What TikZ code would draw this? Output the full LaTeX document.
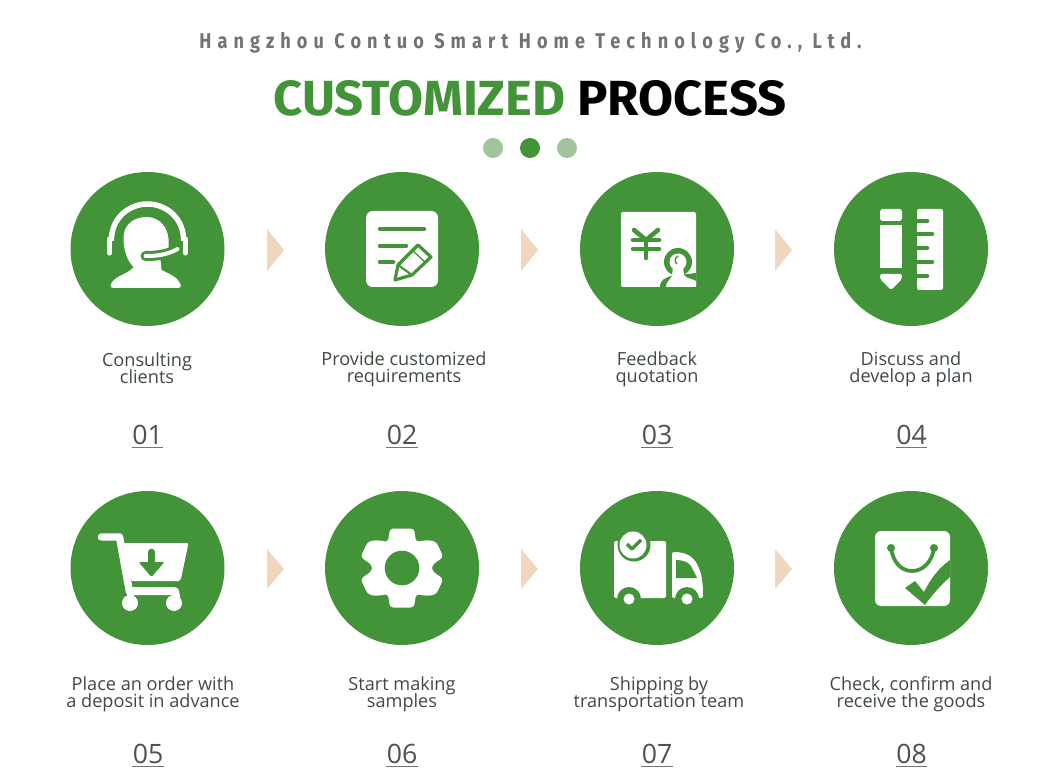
\documentclass[tikz,border=0pt]{standalone}
\usepackage{fontspec}
\usepackage{xcolor}
\setmainfont{Open Sans}
\newfontfamily\headfont[LetterSpace=28.5, FakeStretch=0.85]{Fira Sans}
\newfontfamily\titlefont[FakeStretch=1.03]{Fira Sans}
\lineskiplimit=-20pt
\definecolor{custom_green}{HTML}{439339}
\definecolor{dot_green}{HTML}{A0C49B}
\definecolor{custom_tan}{HTML}{F0D6BC}
\definecolor{caption_gray}{HTML}{3F4A3F}
\definecolor{number_gray}{HTML}{505050}
\tikzset{
  stepcircle/.style={circle, fill=custom_green, inner sep=0pt, minimum size=115.5pt},
  captiontext/.style={font=\fontsize{13.6pt}{12.8pt}\selectfont, text=caption_gray, align=center, inner sep=0pt},
  numbertext/.style={font=\fontsize{20pt}{20pt}\selectfont, text=number_gray, inner sep=0pt, text depth=0pt, text height=16pt},
  numberline/.style={draw=number_gray!80, line width=0.9pt},
  chevron/.style={fill=custom_tan},
  hole/.style={draw=custom_green, line width=3.4pt, line cap=round, line join=round},
}
\begin{document}
\begin{tikzpicture}[x=0.75pt, y=-0.75pt]
    \useasboundingbox (0,0) rectangle (1060,784);

    \node[font=\fontsize{16pt}{16pt}\selectfont\headfont\bfseries, text=black!55] (company) at (530.5,42.5) {Hangzhou Contuo Smart Home Technology Co., Ltd.};
    \node[font=\fontsize{37pt}{37pt}\selectfont\titlefont\bfseries] (title) at (530,98) {\textcolor{custom_green}{CUSTOMIZED} PROCESS};

    \node[circle, fill=dot_green, inner sep=0pt, minimum size=15pt] (dota) at (493,148) {};
    \node[circle, fill=custom_green, inner sep=0pt, minimum size=15pt] (dotb) at (530,148) {};
    \node[circle, fill=dot_green, inner sep=0pt, minimum size=15pt] (dotc) at (567,148) {};

    \node[stepcircle] (stepa) at (147.5,249) {};
    \node[stepcircle] (stepb) at (402,249) {};
    \node[stepcircle] (stepc) at (657,249) {};
    \node[stepcircle] (stepd) at (911,249) {};
    \node[stepcircle] (stepe) at (147.5,568) {};
    \node[stepcircle] (stepf) at (402,568) {};
    \node[stepcircle] (stepg) at (657,568) {};
    \node[stepcircle] (steph) at (911,568) {};

    % chevrons between the circles
    \fill[chevron] (267,229) -- (284,250) -- (267,271) -- cycle;
    \fill[chevron] (521,229) -- (538,250) -- (521,271) -- cycle;
    \fill[chevron] (775,229) -- (792,250) -- (775,271) -- cycle;
    \fill[chevron] (267,549) -- (284,569) -- (267,589) -- cycle;
    \fill[chevron] (521,549) -- (538,569) -- (521,589) -- cycle;
    \fill[chevron] (775,549) -- (792,569) -- (775,589) -- cycle;

    % headset
    \begin{scope}[shift={(stepa)}]
      \draw[white, line width=4.1pt] (-36,-8) -- (-36,-12) .. controls (-34,-34) and (-16,-45) .. (0,-45) .. controls (16,-45) and (34,-34) .. (36,-12) -- (36,-8);
      \draw[white, line width=3.8pt, line cap=round] (-38,-10) -- (-38,4);
      \draw[white, line width=3.8pt, line cap=round] (38,-10) -- (38,4);
      \fill[white] (-1,-32) .. controls (-14,-32) and (-24,-24) .. (-24,-11) .. controls (-24,2) and (-20,12) .. (-14,18) .. controls (-20,26) and (-33,26) .. (-37,36) .. controls (-37,38) and (-36,39) .. (-34,39) -- (31,39) .. controls (33,39) and (34,37) .. (33,35) .. controls (30,28) and (22,25) .. (14,21) -- (13,11) -- (21,3) -- (21,-10) .. controls (20,-22) and (12,-32) .. (-1,-32) -- cycle;
      \draw[custom_green, line width=7.5pt, line cap=round] (-2,7) .. controls (8,7) and (20,6) .. (30,0);
      \draw[white, line width=3pt, line cap=round] (-2,7) .. controls (8,7) and (20,6) .. (30,0);
    \end{scope}

    % document and pencil
    \begin{scope}[shift={(stepb)}]
      \fill[white, rounded corners=5pt] (-36,-38) rectangle (36,38);
      \draw[hole] (-22,-20) -- (22,-20);
      \draw[hole] (-22,-3) -- (4,-3);
      \draw[hole] (-22,13) -- (-9,13);
      \draw[custom_green, fill=white, line width=2.4pt, line join=round] (-7,31) -- (-4,16) -- (16,-4) -- (29,8) -- (10,26) -- cycle;
      \draw[custom_green, line width=1pt] (11,2) -- (23,13);
      \draw[custom_green, line width=1.6pt] (-4,16) -- (10,26);
    \end{scope}

    % quotation and stamp
    \begin{scope}[shift={(stepc)}]
      \fill[white, rounded corners=1.5pt] (-36,-37) rectangle (39,38);
      \draw[hole] (-23,-19) -- (-11,-9) -- (1,-19);
      \draw[hole] (-24,-9) -- (2,-9);
      \draw[hole] (-24,0) -- (2,0);
      \draw[hole] (-11,-9) -- (-11,9);
      \fill[custom_green] (21,13) circle (14);
      \fill[custom_green] (3,38) .. controls (3,31) and (8,29) .. (14,27) -- (39,24) -- (39,38) -- cycle;
      \fill[white] (21,13) circle (8.5);
      \fill[white] (16,18) -- (26,18) -- (27,26) .. controls (30,30) and (36,30) .. (39,32) -- (39,38) -- (9,38) .. controls (9,33) and (13,31) .. (15,27) -- cycle;
      \draw[custom_green, line width=1.1pt] (21,7) .. controls (17,9) and (18,14) .. (20,15);
    \end{scope}

    % pencil and ruler
    \begin{scope}[shift={(stepd)}]
      \fill[white, rounded corners=2pt] (-31,-28) -- (-31,-40) -- (-9,-40) -- (-9,-28) -- cycle;
      \fill[white] (-31,-24) rectangle (-9,19);
      \fill[white, rounded corners=1.5pt] (-31,25) -- (-9,25) -- (-9,30) -- (-20,41) -- (-31,30) -- cycle;
      \fill[white, rounded corners=1.5pt] (6,-40) rectangle (32,41);
      \draw[hole] (5,-28) -- (16,-28);
      \draw[hole] (5,-15) -- (21,-15);
      \draw[hole] (5,-1) -- (16,-1);
      \draw[hole] (5,13) -- (21,13);
      \draw[hole] (5,27) -- (16,27);
    \end{scope}

    % cart
    \begin{scope}[shift={(stepe)}]
      \draw[white, line width=5.6pt, line cap=round, line join=round] (-46,-31) -- (-28,-31) -- (-18,24);
      \fill[white, rounded corners=1.5pt] (-26,-25) -- (41,-25) -- (33,13) -- (-17,13) -- cycle;
      \fill[white, rounded corners=3pt] (-18,19) -- (31,19) -- (33,32) -- (29,32) -- (28,27) -- (-18,27) -- cycle;
      \fill[white] (-17.5,35) circle (8);
      \fill[white] (26.5,35) circle (8);
      \fill[white] (-21,22) rectangle (-14,32);
      \draw[custom_green, line width=5pt, line cap=round] (4,-16) -- (4,-4);
      \fill[custom_green, rounded corners=1pt] (-9,-6) -- (17,-6) -- (4,9) -- cycle;
    \end{scope}

    % gear
    \begin{scope}[shift={(stepf)}]
      \fill[white, rounded corners=2.5pt] (-12,-39.5) -- (12,-39.5) -- (14,-26) -- (25,-28) -- (34,-26.5) -- (41.5,-11) -- (30,-3) -- (30,3) -- (41.5,11) -- (34,26.5) -- (25,28) -- (14,26) -- (12,39.5) -- (-12,39.5) -- (-14,26) -- (-25,28) -- (-34,26.5) -- (-41.5,11) -- (-30,3) -- (-30,-3) -- (-41.5,-11) -- (-34,-26.5) -- (-25,-28) -- (-14,-26) -- cycle;
      \fill[custom_green] (0,0) circle (17.3);
    \end{scope}

    % truck
    \begin{scope}[shift={(stepg)}]
      \fill[white, rounded corners=1.5pt] (-43,-27) rectangle (9,30);
      \fill[custom_green] (-23,-23) circle (16.5);
      \fill[white] (-24,-23) circle (13.5);
      \draw[custom_green, line width=2.6pt, line join=round] (-30,-24) -- (-25,-19) -- (-16,-28);
      \fill[white, rounded corners=1.5pt] (15,30) -- (15,-16) .. controls (28,-16) and (36,-12) .. (41,-2) .. controls (45,7) and (46,16) .. (46,30) -- cycle;
      \fill[custom_green] (19,-8) .. controls (26,-8) and (31,-6) .. (34,-2) -- (40,10) -- (19,10) -- cycle;
      \fill[custom_green] (-28,31) circle (12);
      \fill[custom_green] (30,31) circle (12);
      \fill[white] (-28,31) circle (5.5);
      \fill[white] (30,31) circle (5.5);
    \end{scope}

    % bag and check
    \begin{scope}[shift={(steph)}]
      \fill[white, rounded corners=4.5pt] (-36,-37) rectangle (39,38);
      \draw[custom_green, line width=2.8pt] (-20,-20) .. controls (-18,-6) and (-10,3) .. (1,3) .. controls (12,3) and (21,-6) .. (23,-20);
      \fill[custom_green] (-20,-20) circle (4);
      \fill[custom_green] (23,-20) circle (4);
      \fill[custom_green] (-6,20) -- (4,13) -- (13,24) .. controls (20,10) and (28,0) .. (39,-8) -- (39,9) .. controls (30,17) and (20,28) .. (14,37) -- cycle;
    \end{scope}

    \node[captiontext] (capa) at (147,368.5) {Consulting\\clients};
    \node[captiontext] (capb) at (404,369) {Provide customized\\requirements};
    \node[captiontext] (capc) at (657,369) {Feedback\\quotation};
    \node[captiontext] (capd) at (911,369) {Discuss and\\develop a plan};
    \node[captiontext] (cape) at (153,694) {Place an order with\\a deposit in advance};
    \node[captiontext] (capf) at (402,694) {Start making\\samples};
    \node[captiontext] (capg) at (659,694) {Shipping by\\transportation team};
    \node[captiontext] (caph) at (911,694) {Check, confirm and\\receive the goods};

    \node[numbertext] (numa) at (147.5,434) {01};
    \node[numbertext] (numb) at (402,434) {02};
    \node[numbertext] (numc) at (657,434) {03};
    \node[numbertext] (numd) at (911.5,434) {04};
    \node[numbertext] (nume) at (148,753) {05};
    \node[numbertext] (numf) at (402,753) {06};
    \node[numbertext] (numg) at (657,753) {07};
    \node[numbertext] (numh) at (911.5,753) {08};

    \draw[numberline] ([yshift=-2.2pt]numa.south west) -- ([yshift=-2.2pt]numa.south east);
    \draw[numberline] ([yshift=-2.2pt]numb.south west) -- ([yshift=-2.2pt]numb.south east);
    \draw[numberline] ([yshift=-2.2pt]numc.south west) -- ([yshift=-2.2pt]numc.south east);
    \draw[numberline] ([yshift=-2.2pt]numd.south west) -- ([yshift=-2.2pt]numd.south east);
    \draw[numberline] ([yshift=-2.2pt]nume.south west) -- ([yshift=-2.2pt]nume.south east);
    \draw[numberline] ([yshift=-2.2pt]numf.south west) -- ([yshift=-2.2pt]numf.south east);
    \draw[numberline] ([yshift=-2.2pt]numg.south west) -- ([yshift=-2.2pt]numg.south east);
    \draw[numberline] ([yshift=-2.2pt]numh.south west) -- ([yshift=-2.2pt]numh.south east);
\end{tikzpicture}
\end{document}
